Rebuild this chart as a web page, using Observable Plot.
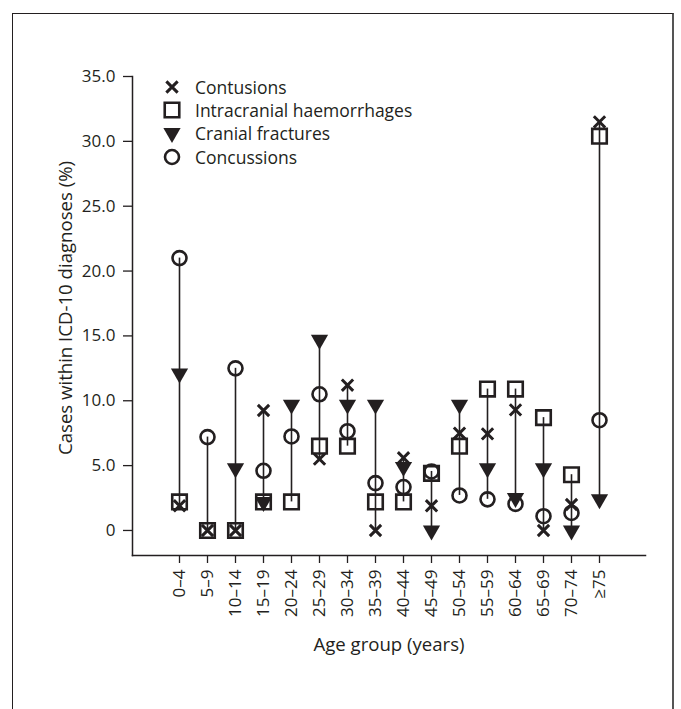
<!DOCTYPE html>
<html><head><meta charset="utf-8">
<script src="https://cdn.jsdelivr.net/npm/d3@7"></script>
<script src="https://cdn.jsdelivr.net/npm/@observablehq/plot@0.6"></script>
<style>
html,body{margin:0;padding:0;background:#fff;overflow:hidden;}
#wrap{position:relative;width:681px;height:709px;font-family:"Open Sans",sans-serif;color:#231f20;}
#border{position:absolute;left:12px;top:13px;width:662px;height:720px;border:1.5px solid #231f20;border-right:2.5px solid #555;box-sizing:border-box;}
#chart{position:absolute;left:0;top:0;}
#legend{position:absolute;left:160px;top:75px;font-size:17.5px;}
#legend .row{display:flex;align-items:center;height:23.3px;}
#legend svg{width:24px;height:20px;margin-right:11px;}
</style></head>
<body><div id="wrap"><div id="border"></div><div id="chart"></div><div id="legend"></div></div>
<script>
const ages = ["0–4","5–9","10–14","15–19","20–24","25–29","30–34","35–39","40–44","45–49","50–54","55–59","60–64","65–69","70–74","≥75"];
const contusions   = [1.9, 0, 0, 9.25, null, 5.5, 11.2, 0, 5.6, 1.9, 7.5, 7.45, 9.3, 0, 2.0, 31.5];
const haemorrhages = [2.2, 0, 0, 2.2, 2.2, 6.5, 6.5, 2.2, 2.2, 4.4, 6.5, 10.9, 10.9, 8.7, 4.3, 30.4];
const fractures    = [12.1, null, 4.8, 2.2, 9.7, 14.7, 9.7, 9.7, 4.9, 0, 9.7, 4.8, 2.5, 4.8, 0, 2.4];
const concussions  = [21.0, 7.2, 12.5, 4.6, 7.25, 10.5, 7.65, 3.65, 3.35, 4.55, 2.7, 2.4, 2.05, 1.1, 1.35, 8.5];
const yTicks = [0, 5, 10, 15, 20, 25, 30, 35];
const seriesNames = ["Contusions", "Intracranial haemorrhages", "Cranial fractures", "Concussions"];
const xTitle = "Age group (years)";
const yTitle = "Cases within ICD-10 diagnoses (%)";

const ink = "#231f20";
const rows = ages.map((age, i) => {
  const vals = [contusions[i], haemorrhages[i], fractures[i], concussions[i]].filter(v => v != null);
  return {age, c: contusions[i], h: haemorrhages[i], f: fractures[i], k: concussions[i], lo: d3.min(vals), hi: d3.max(vals)};
});

const chart = Plot.plot({
  width: 681, height: 709,
  marginLeft: 132, marginRight: 36, marginTop: 76, marginBottom: 154,
  style: {fontFamily: '"Open Sans", sans-serif', fontSize: "17px", color: ink, background: "transparent"},
  x: {type: "point", domain: ages, padding: 1.4},
  y: {domain: [-1.93, 35]},
  marks: [
    Plot.frame({anchor: "left", stroke: ink, strokeWidth: 1.5}),
    Plot.frame({anchor: "bottom", stroke: ink, strokeWidth: 1.5}),
    Plot.axisY({ticks: yTicks, tickFormat: d => d === 0 ? "0" : d.toFixed(1), tickSize: 9, tickPadding: 8, strokeWidth: 1.3,
      fontSize: 17, label: null}),
    Plot.axisX({tickRotate: -90, tickSize: 8, tickPadding: 6, strokeWidth: 1.3, fontSize: 17, label: null}),
    Plot.text([xTitle], {frameAnchor: "bottom", dy: 95, fontSize: 18.6, fill: ink}),
    Plot.text([yTitle], {frameAnchor: "left", textAnchor: "middle", dx: -66, dy: -8, rotate: -90, fontSize: 18.6, fill: ink}),
    Plot.ruleX(rows, {x: "age", y1: "lo", y2: "hi", stroke: ink, strokeWidth: 1.6}),
    Plot.dot(rows, {x: "age", y: "h", symbol: "square", r: 8.2, stroke: ink, strokeWidth: 2.6, fill: "none"}),
    Plot.dot(rows, {x: "age", y: "k", symbol: "circle", r: 7, stroke: ink, strokeWidth: 2.6, fill: "none"}),
    Plot.dot(rows, {x: "age", y: "f", symbol: "triangle", r: 6.4, rotate: 180, fill: ink, stroke: "none"}),
    Plot.dot(rows, {x: "age", y: "c", symbol: "times", r: 5.2, stroke: ink, strokeWidth: 3})
  ]
});
document.getElementById("chart").appendChild(chart);

// legend
const legendSyms = [
  {sym: d3.symbolTimes, r: 5.2, fill: "none", stroke: ink, sw: 3, rot: 0},
  {sym: d3.symbolSquare, r: 8.2, fill: "none", stroke: ink, sw: 2.6, rot: 0},
  {sym: d3.symbolTriangle, r: 6.4, fill: ink, stroke: "none", sw: 0, rot: 180},
  {sym: d3.symbolCircle, r: 7, fill: "none", stroke: ink, sw: 2.6, rot: 0}
];
const leg = d3.select("#legend");
seriesNames.forEach((name, i) => {
  const s = legendSyms[i];
  const row = leg.append("div").attr("class", "row");
  const svg = row.append("svg").attr("viewBox", "-12 -10 24 20");
  svg.append("path")
    .attr("d", d3.symbol(s.sym, Math.PI * s.r * s.r)())
    .attr("transform", `rotate(${s.rot})`)
    .attr("fill", s.fill).attr("stroke", s.stroke).attr("stroke-width", s.sw);
  row.append("span").text(name);
});
</script></body></html>
